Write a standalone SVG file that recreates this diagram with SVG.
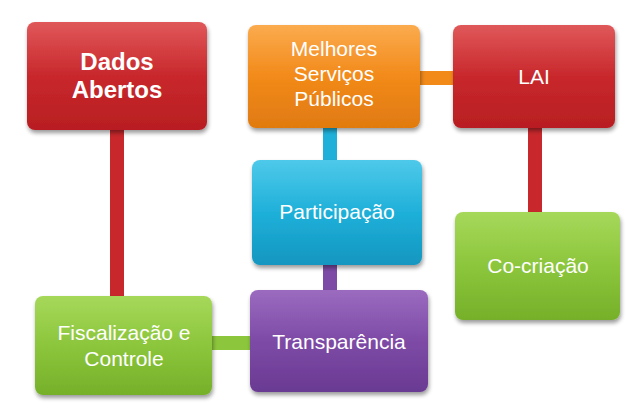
<svg xmlns="http://www.w3.org/2000/svg" width="640" height="406" viewBox="0 0 640 406">
<defs>
<linearGradient id="red" x1="0" y1="0" x2="0" y2="1"><stop offset="0" stop-color="#e0585a"/><stop offset="0.5" stop-color="#c8282c"/><stop offset="1" stop-color="#b81e22"/></linearGradient>
<linearGradient id="orange" x1="0" y1="0" x2="0" y2="1"><stop offset="0" stop-color="#fbab4e"/><stop offset="0.5" stop-color="#f28a1a"/><stop offset="1" stop-color="#e07a10"/></linearGradient>
<linearGradient id="blue" x1="0" y1="0" x2="0" y2="1"><stop offset="0" stop-color="#4ec9ea"/><stop offset="0.5" stop-color="#1fb0d9"/><stop offset="1" stop-color="#1296c0"/></linearGradient>
<linearGradient id="green" x1="0" y1="0" x2="0" y2="1"><stop offset="0" stop-color="#a6d85a"/><stop offset="0.5" stop-color="#8cc63c"/><stop offset="1" stop-color="#76b02a"/></linearGradient>
<linearGradient id="purple" x1="0" y1="0" x2="0" y2="1"><stop offset="0" stop-color="#9b6bc0"/><stop offset="0.5" stop-color="#7d4ba6"/><stop offset="1" stop-color="#6a3a92"/></linearGradient>
<filter id="sh" x="-10%" y="-10%" width="130%" height="130%"><feGaussianBlur in="SourceAlpha" stdDeviation="2"/><feOffset dx="1" dy="3"/><feComponentTransfer><feFuncA type="linear" slope="0.4"/></feComponentTransfer><feMerge><feMergeNode/><feMergeNode in="SourceGraphic"/></feMerge></filter>
</defs>
<style>
.b{stroke:none;filter:url(#sh)}
.t{font-family:"Liberation Sans",Arial,sans-serif;font-size:21px;fill:#fff;text-anchor:middle}
.bold{font-weight:bold;font-size:24px}
</style>
<rect width="640" height="406" fill="#fff"/>
<g id="connectors">
<rect x="110" y="120" width="14" height="185" fill="#c8282c"/>
<rect x="410" y="71" width="50" height="14" fill="#f28a1a"/>
<rect x="323" y="120" width="14" height="45" fill="#1fb0d9"/>
<rect x="323" y="258" width="14" height="38" fill="#7d4ba6"/>
<rect x="528" y="120" width="14" height="98" fill="#c8282c"/>
<rect x="205" y="336" width="50" height="14" fill="#8cc63c"/>
</g>
<g id="dados"><rect class="b" x="27" y="22" width="180" height="108" rx="8" fill="url(#red)"/><text class="t bold" x="117" y="70">Dados</text><text class="t bold" x="117" y="98">Abertos</text></g>
<g id="melhores"><rect class="b" x="248" y="25" width="172" height="103" rx="8" fill="url(#orange)"/><text class="t" x="334" y="56">Melhores</text><text class="t" x="334" y="81">Serviços</text><text class="t" x="334" y="106">Públicos</text></g>
<g id="lai"><rect class="b" x="453" y="25" width="162" height="103" rx="8" fill="url(#red)"/><text class="t" x="534" y="84">LAI</text></g>
<g id="participacao"><rect class="b" x="252" y="160" width="170" height="105" rx="8" fill="url(#blue)"/><text class="t" x="337" y="219">Participação</text></g>
<g id="cocriacao"><rect class="b" x="455" y="212" width="165" height="108" rx="8" fill="url(#green)"/><text class="t" x="538" y="273">Co-criação</text></g>
<g id="fiscalizacao"><rect class="b" x="35" y="296" width="177" height="99" rx="8" fill="url(#green)"/><text class="t" x="124" y="340">Fiscalização  e</text><text class="t" x="124" y="366">Controle</text></g>
<g id="transparencia"><rect class="b" x="250" y="290" width="178" height="102" rx="8" fill="url(#purple)"/><text class="t" x="339" y="349">Transparência</text></g>
</svg>
